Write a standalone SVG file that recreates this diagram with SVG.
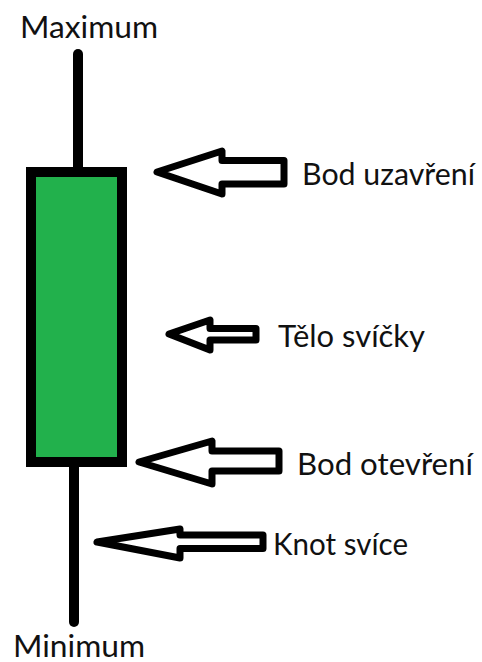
<svg xmlns="http://www.w3.org/2000/svg" width="482" height="662" viewBox="0 0 482 662">
<style>
.lbl{font-family:Lato,"Open Sans","Liberation Sans",sans-serif;font-size:30px;fill:#111}
.wick{stroke:#000;stroke-width:10;stroke-linecap:round;fill:none}
.body{fill:#22b14c;stroke:#000;stroke-width:10}
.arr{fill:#fff;stroke:#000;stroke-width:7;stroke-linejoin:round}
</style>
<rect width="482" height="662" fill="#fff"/>
<g id="candle">
<line class="wick" x1="78" y1="54" x2="78" y2="170"/>
<line class="wick" x1="74" y1="464" x2="74" y2="622"/>
<rect class="body" x="31" y="172" width="91" height="290"/>
</g>
<g id="connectors">
<polygon class="arr" points="157,172 222,151 222,160.5 284,160.5 284,184 222,184 222,194"/>
<polygon class="arr" points="169,334 210,320 210,328.5 256,328.5 256,340 210,340 210,350"/>
<polygon class="arr" points="139,462 212,441 212,451 279,451 279,471 212,471 212,484"/>
<polygon class="arr" points="97,542 180,529 180,535 263,535 263,548.5 180,548.5 180,558"/>
</g>
<g id="maximum"><text class="lbl" x="20" y="38" textLength="138" lengthAdjust="spacingAndGlyphs">Maximum</text></g>
<g id="minimum"><text class="lbl" x="13" y="657" textLength="132" lengthAdjust="spacingAndGlyphs">Minimum</text></g>
<g id="bod-uzavreni"><text class="lbl" x="302" y="185" textLength="173" lengthAdjust="spacingAndGlyphs">Bod uzavření</text></g>
<g id="telo-svicky"><text class="lbl" x="278" y="347" textLength="147" lengthAdjust="spacingAndGlyphs">Tělo svíčky</text></g>
<g id="bod-otevreni"><text class="lbl" x="297" y="475" textLength="176" lengthAdjust="spacingAndGlyphs">Bod otevření</text></g>
<g id="knot-svice"><text class="lbl" x="273" y="555" textLength="135" lengthAdjust="spacingAndGlyphs">Knot svíce</text></g>
</svg>
